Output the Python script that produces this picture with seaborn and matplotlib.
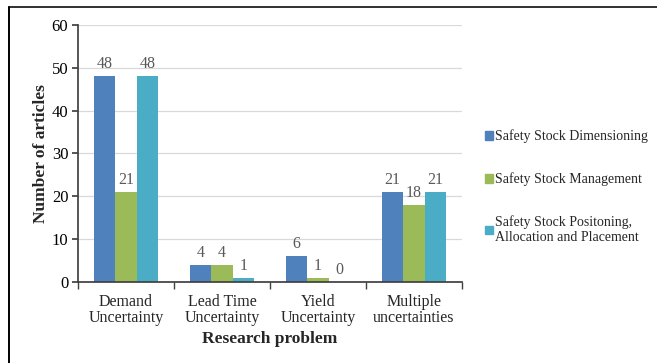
import matplotlib
matplotlib.use("Agg")
import matplotlib.pyplot as plt
from matplotlib.lines import Line2D
import seaborn as sns
import pandas as pd

categories = ["Demand\nUncertainty", "Lead Time\nUncertainty", "Yield\nUncertainty", "Multiple\nuncertainties"]
series = ["Safety Stock Dimensioning", "Safety Stock Management",
          "Safety Stock Positoning,\nAllocation and Placement"]
dimensioning = [48, 4, 6, 21]
management = [21, 4, 1, 18]
positioning = [48, 1, 0, 21]
colors = ["#4F81BD", "#9BBB59", "#4BACC6"]

rows = []
for s, vals in zip(series, [dimensioning, management, positioning]):
    for c, v in zip(categories, vals):
        rows.append({"Research problem": c, "Series": s, "Count": v})
df = pd.DataFrame(rows)

sns.set_theme(style="white")
SERIF = ["Liberation Serif", "DejaVu Serif"]
plt.rcParams["font.family"] = SERIF

fig = plt.figure(figsize=(6.57, 3.63), dpi=100)
ax = fig.add_axes([78 / 657, 1 - 282 / 363, (462 - 78) / 657, (282 - 25) / 363])

sns.barplot(data=df, x="Research problem", y="Count", hue="Series",
            palette=colors, width=0.667, ax=ax, saturation=1, legend=False,
            edgecolor="none")

for cont in ax.containers:
    ax.bar_label(cont, fmt="%d", padding=3, fontsize=11.5, color="#595959",
                 family=SERIF)

ax.set_ylim(0, 60)
ax.set_yticks(range(0, 61, 10))
ax.set_xlim(-0.5, 3.5)
ax.yaxis.grid(True, color="#D9D9D9", linewidth=0.9)
ax.set_axisbelow(True)
for side in ["top", "right"]:
    ax.spines[side].set_visible(False)
ax.spines["left"].set_color("#404040")
ax.spines["bottom"].set_color("#404040")

ax.tick_params(axis="y", which="both", left=True, length=4, color="#404040",
               labelsize=12, labelcolor="black", pad=3)
ax.set_xticks([0, 1, 2, 3])
ax.set_xticklabels(categories, fontsize=11.5, linespacing=1.0)
ax.tick_params(axis="x", bottom=False, pad=3)
# category separator ticks
ax.set_xticks([-0.5, 0.5, 1.5, 2.5, 3.5], minor=True)
ax.tick_params(axis="x", which="minor", bottom=True, length=5, color="#404040", width=1)

ax.set_xlabel("Research problem", fontsize=12.5, fontweight="bold", labelpad=3)
ax.set_ylabel("Number of articles", fontsize=12.5, fontweight="bold", labelpad=2)

handles = [plt.Rectangle((0, 0), 1, 1, color=c) for c in colors]
ax.legend(handles, series, loc="center left", bbox_to_anchor=(1.06, 0.37),
          frameon=False, prop={"family": SERIF, "size": 10},
          handlelength=0.55, handleheight=0.55, borderpad=0,
          handletextpad=0.2, labelspacing=2.1, borderaxespad=0)

# outer frame (top and left edges)
fig.add_artist(Line2D([9 / 657, 1], [1 - 6.5 / 363, 1 - 6.5 / 363],
                      transform=fig.transFigure, color="#303030", linewidth=1.4))
fig.add_artist(Line2D([9 / 657, 9 / 657], [0, 1 - 6.5 / 363],
                      transform=fig.transFigure, color="black", linewidth=1.4))

fig.savefig("out.png", dpi=100)
